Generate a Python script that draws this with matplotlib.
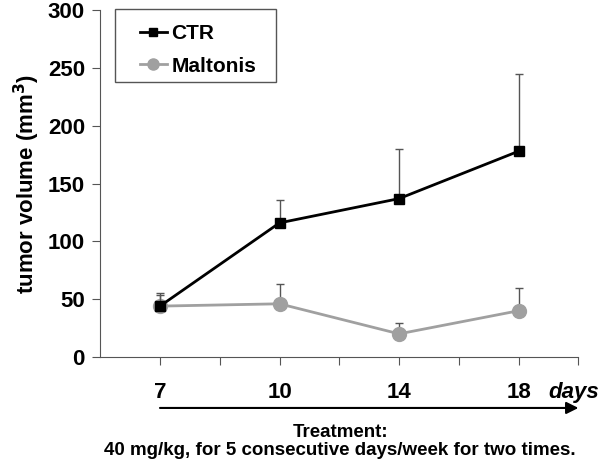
import numpy as np
import matplotlib.pyplot as plt
from matplotlib.lines import Line2D
from matplotlib.patches import Rectangle

plt.rcParams['font.family'] = ['Liberation Sans', 'DejaVu Sans']
plt.rcParams['font.weight'] = 'bold'

days = ['7', '10', '14', '18']
ctr = [44, 116, 137, 178]
ctr_err = [10, 20, 43, 67]
mal = [44, 46, 20, 40]
mal_err = [11, 17, 9, 20]

x = np.arange(len(days))

fig = plt.figure(figsize=(6, 4.63), dpi=100)
ax = fig.add_axes([0.167, 0.229, 0.797, 0.749])

ax.errorbar(x, mal, yerr=[np.zeros(len(mal)), mal_err], color='#a0a0a0', lw=2,
            marker='o', ms=10, ecolor='#555555', elinewidth=1, capsize=3,
            capthick=1, zorder=2)
ax.errorbar(x, ctr, yerr=[np.zeros(len(ctr)), ctr_err], color='black', lw=2,
            marker='s', ms=7, ecolor='#555555', elinewidth=1, capsize=3,
            capthick=1, zorder=3)

ax.set_xlim(-0.5, 3.5)
ax.set_ylim(0, 300)
ax.set_yticks([0, 50, 100, 150, 200, 250, 300])
ax.set_xticks(np.arange(0, 3.6, 0.5))
ax.set_xticklabels([])
ax.tick_params(axis='x', length=6, color='#555555')
ax.tick_params(axis='y', length=6, color='#555555', labelsize=16, pad=5)
for i, d in enumerate(days):
    ax.annotate(d, (i, 0), xytext=(0, -18), textcoords='offset points',
                ha='center', va='top', fontsize=16, fontweight='bold')
ax.annotate('days', (3.5, 0), xytext=(-3, -18), textcoords='offset points',
            ha='center', va='top', fontsize=16, fontweight='bold', style='italic')

ax.spines['right'].set_color('none')
ax.spines['top'].set_color('none')
ax.spines['left'].set_color('#555555')
ax.spines['bottom'].set_color('#555555')

ax.set_ylabel('tumor volume (mm$^\\mathbf{3}$)', fontsize=16, fontweight='bold', labelpad=4)

# legend box drawn separately so the padding can be wider than tall
ax.add_patch(Rectangle((0.031, 0.793), 0.336, 0.21, transform=ax.transAxes,
                       fill=False, edgecolor='#555555', lw=1, clip_on=False))
handles = [Line2D([], [], color='black', lw=2, marker='s', ms=6),
           Line2D([], [], color='#a0a0a0', lw=2, marker='o', ms=8)]
ax.legend(handles, ['CTR', 'Maltonis'], loc='upper left',
          bbox_to_anchor=(0.083, 0.96), fontsize=15, frameon=False,
          handlelength=1.3, borderpad=0, labelspacing=0.65,
          handletextpad=0.2, borderaxespad=0)

# treatment arrow under the day labels
ax.annotate('', xy=(3.5, -0.147), xytext=(0, -0.147),
            xycoords=ax.get_xaxis_transform(),
            textcoords=ax.get_xaxis_transform(), annotation_clip=False,
            arrowprops=dict(arrowstyle='-|>', color='black', lw=1.5,
                            mutation_scale=18, shrinkA=0, shrinkB=0))
fig.text(0.567, 0.046, 'Treatment:\n40 mg/kg, for 5 consecutive days/week for two times.',
         ha='center', va='center', fontsize=13.5, fontweight='bold', linespacing=1.1)

fig.savefig('out.png', dpi=100)
